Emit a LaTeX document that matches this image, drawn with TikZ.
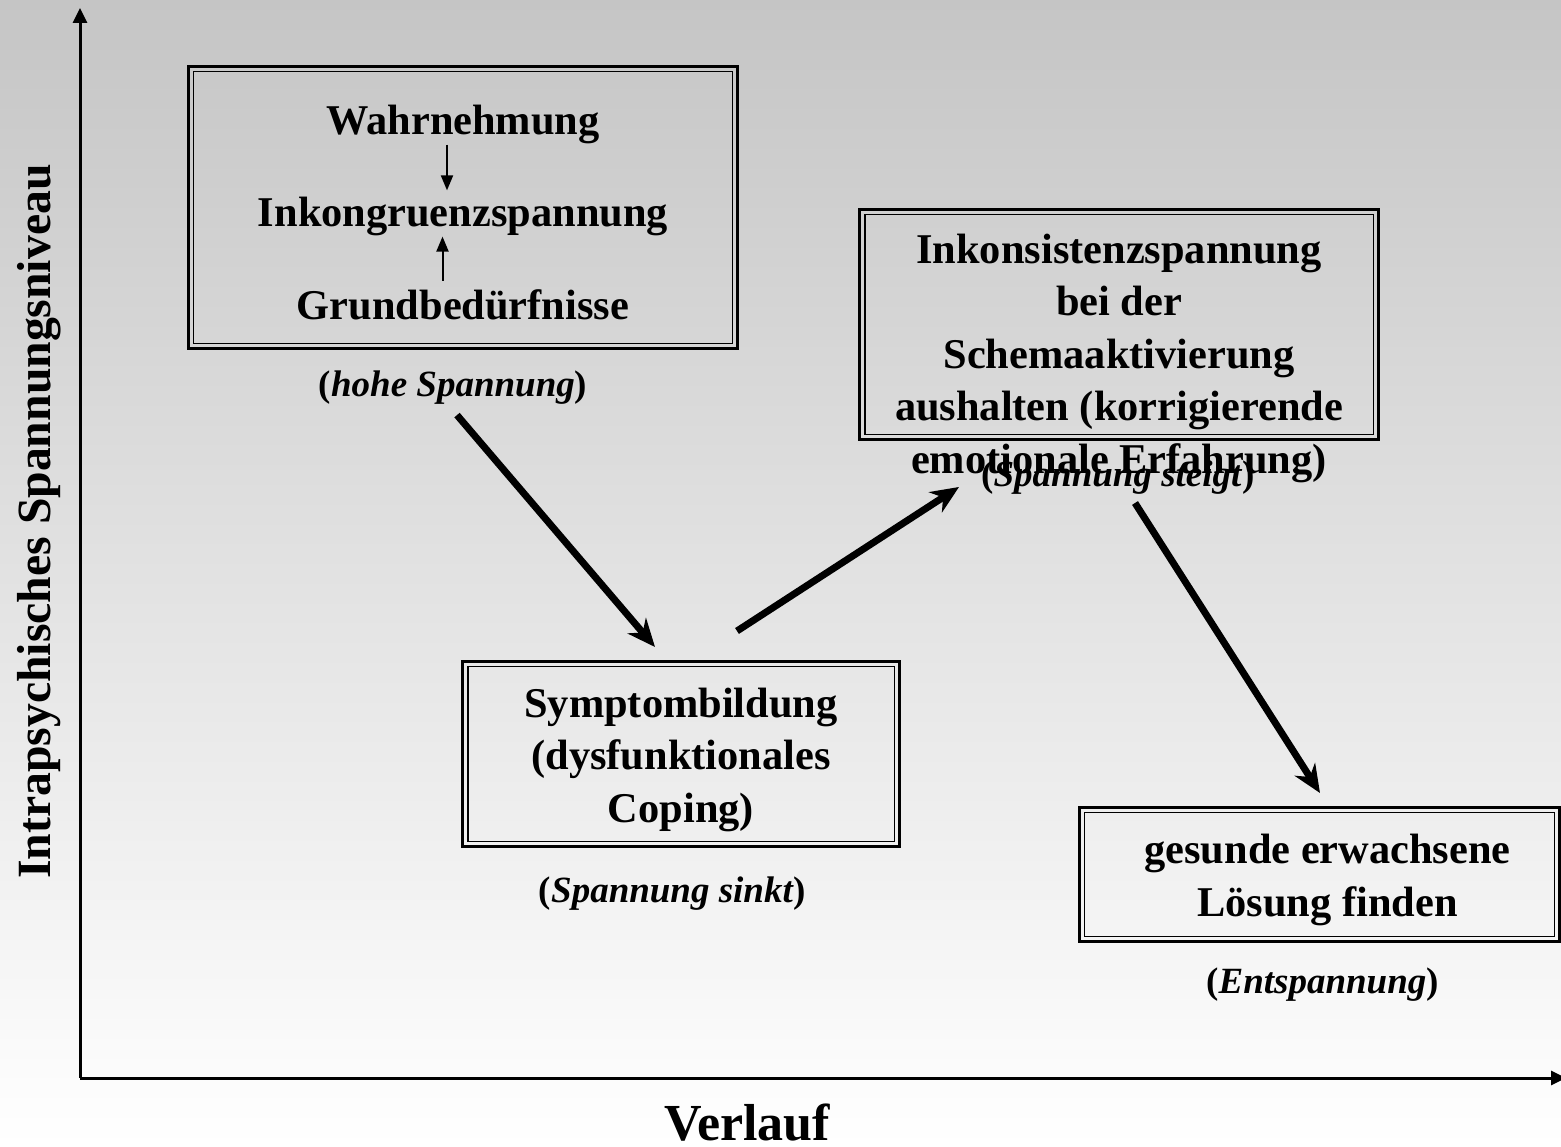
\documentclass[tikz,border=0pt]{standalone}
\usepackage{fontspec}
\setmainfont{Liberation Serif}
\usetikzlibrary{arrows.meta}
\definecolor{topgray}{RGB}{197,197,197}
\tikzset{
        frame/.style={draw, line width=3pt, inner sep=0pt, outer sep=0pt},
        boxtext/.style={font=\bfseries\fontsize{42.4}{52.5}\selectfont, align=center, inner sep=0pt, anchor=base},
        note/.style={font=\bfseries\fontsize{37}{44}\selectfont, inner sep=0pt, anchor=base},
        bigarrow/.style={-{Stealth[length=28pt, width=24pt, inset=9pt]}, line width=7pt},
        smallarrow/.style={-{Triangle[length=15pt, width=12pt]}, line width=2pt},
        axis/.style={-{Triangle[length=15pt, width=14pt]}, line width=3pt}
}
\begin{document}
\begin{tikzpicture}[x=1pt, y=-1pt]
        \useasboundingbox (0,0) rectangle (1561,1147);
        \shade[top color=topgray, bottom color=white] (0,0) rectangle (1561,1147);

        \node[frame, minimum width=549pt, minimum height=282pt] (wahrbox) at (463,207.5) {};
        \node[frame, minimum width=518.5pt, minimum height=230pt] (inkonsbox) at (1119,324.5) {};
        \node[frame, minimum width=436.5pt, minimum height=185pt] (symptbox) at (681,754) {};
        \node[frame, minimum width=480pt, minimum height=134pt] (loesbox) at (1319.5,874.5) {};
        \foreach \b in {wahrbox, inkonsbox, symptbox, loesbox}
            \draw[line width=1.5pt] ([shift={(5pt,-5pt)}]\b.north west) rectangle ([shift={(-5pt,5pt)}]\b.south east);

        \node[boxtext] (wahr) at (463,135) {Wahrnehmung};
        \node[boxtext] (inkong) at (463,227) {Inkongruenzspannung};
        \node[boxtext] (grund) at (463,320) {Grundbedürfnisse};
        \draw[smallarrow, shorten >=7pt] ([xshift=-16pt]wahr.south) -- ([xshift=-16pt]inkong.north);
        \draw[smallarrow, shorten <=9pt] ([xshift=-20.5pt]grund.north) -- ([xshift=-20.5pt]inkong.south);
        \node[note] (hohe) at (453,397) {(\textit{hohe Spannung})};

        \node[boxtext] (inkonstext) at (1119,473) {Inkonsistenzspannung\\bei der\\Schemaaktivierung\\aushalten (korrigierende\\emotionale Erfahrung)};
        \node[note] (steigt) at (1118,486) {(\textit{Spannung steigt})};

        \node[boxtext] (symptext) at (681,822) {Symptombildung\\(dysfunktionales\\Coping)};
        \node[note] (sinkt) at (672.5,902) {(\textit{Spannung sinkt})};

        \node[boxtext] (loestext) at (1327.5,916) {gesunde erwachsene\\Lösung finden};
        \node[note] (entsp) at (1322.5,993) {(\textit{Entspannung})};

        \draw[bigarrow] ([shift={(4pt,-10pt)}]hohe.south) -- ([shift={(-26pt,14.5pt)}]symptbox.north);
        \draw[bigarrow] ([shift={(56pt,30.5pt)}]symptbox.north) -- ([shift={(-160pt,-47.5pt)}]inkonsbox.south);
        \draw[bigarrow] ([shift={(16pt,-63.5pt)}]inkonsbox.south) -- ([shift={(0.5pt,14.5pt)}]loesbox.north);

        \coordinate (origin) at (80,1078);
        \coordinate (ytop) at (80,8);
        \coordinate (xend) at (1566,1078);
        \draw[axis] (origin) -- (ytop);
        \draw[axis] (origin) -- (xend);
        \node[font=\bfseries\fontsize{52}{60}\selectfont, inner sep=0pt, anchor=base] (verlauf) at (747,1140) {Verlauf};
        \node[font=\bfseries\fontsize{47.7}{56}\selectfont, inner sep=0pt, anchor=base, rotate=90] (niveau) at (50,521.5) {Intrapsychisches Spannungsniveau};
\end{tikzpicture}
\end{document}
